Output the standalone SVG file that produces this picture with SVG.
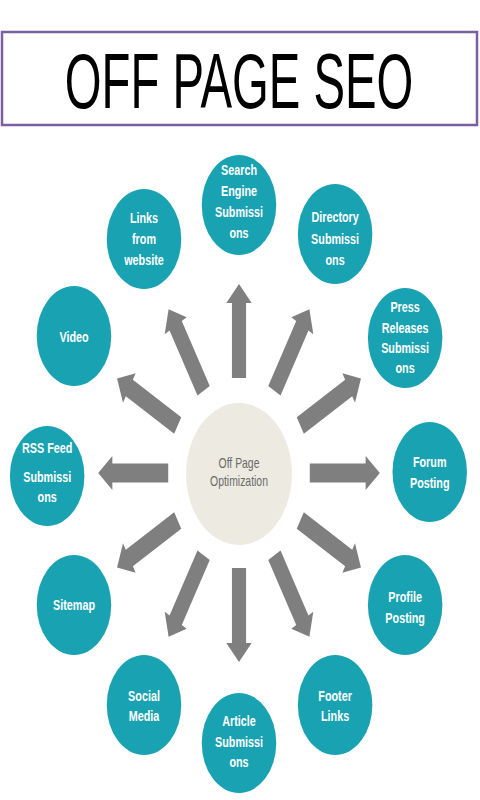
<svg xmlns="http://www.w3.org/2000/svg" width="480" height="800" viewBox="0 0 480 800">
<style>
.node{fill:#19a3b2}
.lbl{font-family:"Liberation Sans",Arial,sans-serif;font-size:14.5px;font-weight:bold;fill:#ffffff;text-anchor:middle}
.arr{fill:#7f7f7f}
.ctr{font-family:"Liberation Sans",Arial,sans-serif;font-size:14px;fill:#6a6a6a;text-anchor:middle}
</style>
<defs>
<polygon id="arrowUp" class="arr" points="229.5,378 229.5,303 222,303 239,284 256,303 248.5,303 248.5,378"/>
</defs>
<rect width="480" height="800" fill="#ffffff"/>
<g id="title">
<rect x="2" y="32" width="475" height="93" fill="#ffffff" stroke="#7b5fa3" stroke-width="2.5"/>
<text transform="translate(239 108) scale(0.606 1)" x="0" y="0" font-family="Liberation Sans, Arial, sans-serif" font-size="78" text-anchor="middle" fill="#000000">OFF PAGE SEO</text>
</g>
<g transform="translate(239 0) scale(0.745 1) translate(-239 0)">
<g id="connectors">
<use href="#arrowUp"/>
<use href="#arrowUp" transform="rotate(30 239 473)"/>
<use href="#arrowUp" transform="rotate(60 239 473)"/>
<use href="#arrowUp" transform="rotate(90 239 473)"/>
<use href="#arrowUp" transform="rotate(120 239 473)"/>
<use href="#arrowUp" transform="rotate(150 239 473)"/>
<use href="#arrowUp" transform="rotate(180 239 473)"/>
<use href="#arrowUp" transform="rotate(210 239 473)"/>
<use href="#arrowUp" transform="rotate(240 239 473)"/>
<use href="#arrowUp" transform="rotate(270 239 473)"/>
<use href="#arrowUp" transform="rotate(300 239 473)"/>
<use href="#arrowUp" transform="rotate(330 239 473)"/>
</g>
<g id="center">
<circle cx="239" cy="474" r="71" fill="#edeae2"/>
<text class="ctr" x="239" y="468">Off Page</text>
<text class="ctr" x="239" y="486">Optimization</text>
</g>
<g id="search-engine">
<circle class="node" cx="239" cy="205" r="50"/>
<text class="lbl" x="239" y="175">Search</text>
<text class="lbl" x="239" y="196">Engine</text>
<text class="lbl" x="239" y="217">Submissi</text>
<text class="lbl" x="239" y="238">ons</text>
</g>
<g id="directory">
<circle class="node" cx="368" cy="234" r="50"/>
<text class="lbl" x="368" y="222">Directory</text>
<text class="lbl" x="368" y="244">Submissi</text>
<text class="lbl" x="368" y="265">ons</text>
</g>
<g id="press-releases">
<circle class="node" cx="462" cy="338" r="50"/>
<text class="lbl" x="462" y="312">Press</text>
<text class="lbl" x="462" y="333">Releases</text>
<text class="lbl" x="462" y="353">Submissi</text>
<text class="lbl" x="462" y="373">ons</text>
</g>
<g id="forum-posting">
<circle class="node" cx="495" cy="472" r="50"/>
<text class="lbl" x="495" y="467">Forum</text>
<text class="lbl" x="495" y="488">Posting</text>
</g>
<g id="profile-posting">
<circle class="node" cx="462" cy="605" r="50"/>
<text class="lbl" x="462" y="602">Profile</text>
<text class="lbl" x="462" y="623">Posting</text>
</g>
<g id="footer-links">
<circle class="node" cx="368" cy="705" r="50"/>
<text class="lbl" x="368" y="701">Footer</text>
<text class="lbl" x="368" y="721">Links</text>
</g>
<g id="article">
<circle class="node" cx="239" cy="743" r="50"/>
<text class="lbl" x="239" y="726">Article</text>
<text class="lbl" x="239" y="747">Submissi</text>
<text class="lbl" x="239" y="767">ons</text>
</g>
<g id="social-media">
<circle class="node" cx="111.5" cy="705" r="50"/>
<text class="lbl" x="111.5" y="701">Social</text>
<text class="lbl" x="111.5" y="721">Media</text>
</g>
<g id="sitemap">
<circle class="node" cx="17.5" cy="605" r="50"/>
<text class="lbl" x="17.5" y="610">Sitemap</text>
</g>
<g id="rss-feed">
<circle class="node" cx="-18.5" cy="476" r="50"/>
<text class="lbl" x="-18.5" y="453">RSS Feed</text>
<text class="lbl" x="-18.5" y="482">Submissi</text>
<text class="lbl" x="-18.5" y="502">ons</text>
</g>
<g id="video">
<circle class="node" cx="17.5" cy="336" r="50"/>
<text class="lbl" x="17.5" y="342">Video</text>
</g>
<g id="links-from-website">
<circle class="node" cx="111.5" cy="239" r="50"/>
<text class="lbl" x="111.5" y="223">Links</text>
<text class="lbl" x="111.5" y="244">from</text>
<text class="lbl" x="111.5" y="265">website</text>
</g>
</g>
</svg>
